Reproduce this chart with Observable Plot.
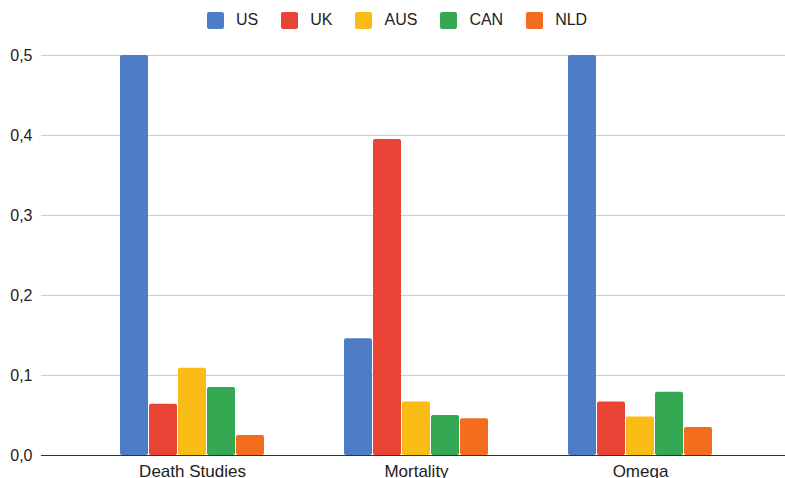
<!DOCTYPE html>
<html><head><meta charset="utf-8">
<script src="https://cdn.jsdelivr.net/npm/d3@7"></script>
<script src="https://cdn.jsdelivr.net/npm/@observablehq/plot@0.6"></script>
<style>
body{margin:0;background:#fff;font-family:"Liberation Sans",Arial,sans-serif;}
#legend{display:flex;align-items:center;height:40px;padding-left:207px;box-sizing:border-box;font-size:16px;color:#222;}
.item{display:flex;align-items:center;margin-right:23px;}
.sw{width:17px;height:17px;border-radius:2px;margin-right:12px;}
</style></head><body>
<div id="legend"></div><div id="chart"></div>
<script>
const journals = ["Death Studies", "Mortality", "Omega"];
const countries = ["US", "UK", "AUS", "CAN", "NLD"];
const colors = ["#4f7cc6", "#e94335", "#f9bc15", "#35a853", "#f46d1f"];
const usValues  = [0.5, 0.146, 0.5];
const ukValues  = [0.064, 0.395, 0.067];
const ausValues = [0.109, 0.067, 0.048];
const canValues = [0.085, 0.05, 0.079];
const nldValues = [0.025, 0.046, 0.035];
const yTicks = [0, 0.1, 0.2, 0.3, 0.4, 0.5];

const series = [usValues, ukValues, ausValues, canValues, nldValues];
const data = journals.flatMap((j, i) => countries.map((c, k) => ({journal: j, country: c, value: series[k][i]})));

const legend = document.getElementById("legend");
countries.forEach((c, k) => {
  const it = document.createElement("div");
  it.className = "item";
  const sw = document.createElement("div");
  sw.className = "sw";
  sw.style.background = colors[k];
  const t = document.createElement("span");
  t.textContent = c;
  it.appendChild(sw); it.appendChild(t);
  legend.appendChild(it);
});

const chart = Plot.plot({
  width: 785, height: 438,
  marginLeft: 40, marginRight: 0, marginTop: 15, marginBottom: 23,
  style: {fontFamily: "Liberation Sans, Arial, sans-serif", fontSize: "16px", color: "#222", background: "#fff", overflow: "hidden"},
  fx: {domain: journals, padding: 0, insetLeft: 39, insetRight: 33, label: null},
  x: {domain: countries, paddingInner: 0.05, paddingOuter: 0, insetLeft: 39, insetRight: 39, axis: null},
  y: {domain: [0, 0.5], label: null},
  color: {domain: countries, range: colors},
  marks: [
    Plot.ruleY(yTicks.slice(1), {stroke: "#cccccc", insetLeft: -39, insetRight: -33}),
    Plot.axisY(yTicks, {tickSize: 0, tickPadding: 9, dx: -39, tickFormat: d => d.toFixed(1).replace(".", ","), label: null, fill: "#222", fontSize: 16}),
    Plot.barY(data, {fx: "journal", x: "country", y: "value", fill: "country", rx: 2}),
    Plot.ruleY([0], {stroke: "#333", insetLeft: -39, insetRight: -33}),
    Plot.axisFx({anchor: "bottom", tickSize: 0, tickPadding: 9, label: null, fontSize: 17, fill: "#222"})
  ]
});
document.getElementById("chart").appendChild(chart);
</script>
</body></html>
